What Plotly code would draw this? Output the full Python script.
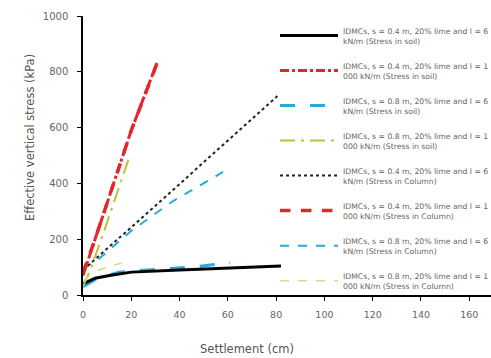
import plotly.graph_objects as go

# ---- data ----
labels = [
    "IDMCs, s = 0.4 m, 20% lime and l = 6<br>kN/m (Stress in soil)",
    "IDMCs, s = 0.4 m, 20% lime and l = 1<br>000 kN/m (Stress in soil)",
    "IDMCs, s = 0.8 m, 20% lime and l = 6<br>kN/m (Stress in soil)",
    "IDMCs, s = 0.8 m, 20% lime and l = 1<br>000 kN/m (Stress in soil)",
    "IDMCs, s = 0.4 m, 20% lime and l = 6<br>kN/m (Stress in Column)",
    "IDMCs, s = 0.4 m, 20% lime and l = 1<br>000 kN/m (Stress in Column)",
    "IDMCs, s = 0.8 m, 20% lime and l = 6<br>kN/m (Stress in Column)",
    "IDMCs, s = 0.8 m, 20% lime and l = 1<br>000 kN/m (Stress in Column)",
]

soil_04_6_x = [0, 5, 11, 20, 40, 60, 82]
soil_04_6_y = [40, 60, 70, 82, 90, 97, 104]

soil_04_1000_x = [0, 5, 10, 20, 31]
soil_04_1000_y = [70, 200, 330, 590, 840]

soil_08_6_x = [0, 5, 10, 15, 30, 45, 61]
soil_08_6_y = [30, 55, 70, 82, 92, 100, 115]

soil_08_1000_x = [0, 3, 8, 14, 19]
soil_08_1000_y = [30, 90, 210, 360, 490]

col_04_6_x = [0, 4, 30, 55, 80.5]
col_04_6_y = [90, 120, 320, 515, 713]

col_04_1000_x = [0, 5, 10, 20, 32]
col_04_1000_y = [80, 200, 330, 590, 860]

col_08_6_x = [0, 6, 20, 37, 58]
col_08_6_y = [95, 125, 230, 335, 441]

col_08_1000_x = [0, 5, 10, 16]
col_08_1000_y = [50, 85, 100, 115]

xs = [soil_04_6_x, soil_04_1000_x, soil_08_6_x, soil_08_1000_x,
      col_04_6_x, col_04_1000_x, col_08_6_x, col_08_1000_x]
ys = [soil_04_6_y, soil_04_1000_y, soil_08_6_y, soil_08_1000_y,
      col_04_6_y, col_04_1000_y, col_08_6_y, col_08_1000_y]

x_ticks = [0, 20, 40, 60, 80, 100, 120, 140, 160]
y_ticks = [0, 200, 400, 600, 800, 1000]

# ---- styles ----
styles = [
    dict(color="#000000", width=3, dash="solid"),
    dict(color="#e3262b", width=3, dash="dashdot"),
    dict(color="#27a9e1", width=3, dash="longdash"),
    dict(color="#b9c23a", width=2, dash="longdashdot"),
    dict(color="#222222", width=2, dash="dot"),
    dict(color="#e3262b", width=3.5, dash="dash"),
    dict(color="#27a9e1", width=2, dash="dash"),
    dict(color="#cfe08a", width=1.5, dash="dash"),
]

FONT = "DejaVu Sans"

fig = go.Figure()
order = [2, 0, 6, 3, 4, 7, 1, 5]  # drawing order
for i in order:
    fig.add_trace(go.Scatter(x=xs[i], y=ys[i], mode="lines", name=labels[i],
                             line=styles[i], legendrank=i + 1,
                             legendgroup=str(i)))

fig.update_layout(
    width=491, height=358,
    margin=dict(l=83, r=0, t=16, b=63, autoexpand=False),
    paper_bgcolor="white", plot_bgcolor="white",
    font=dict(family=FONT, color="#555555", size=9),
    showlegend=True,
    legend=dict(xref="container", yref="container", x=275 / 491, y=1 - 19 / 358,
                xanchor="left", yanchor="top", maxheight=1,
                bgcolor="rgba(0,0,0,0)", font=dict(family=FONT, size=7.7, color="#666666"),
                itemwidth=58, tracegroupgap=12, traceorder="grouped"),
    xaxis=dict(range=[0, 169], tickvals=x_ticks, showgrid=False, zeroline=False,
               showline=True, linecolor="#000000", linewidth=1.5,
               ticks="outside", ticklen=4, tickcolor="#000000", ticklabelstandoff=6,
               tickfont=dict(family=FONT, size=9.5, color="#666666")),
    yaxis=dict(range=[0, 1000], tickvals=y_ticks, showgrid=False, zeroline=False,
               showline=True, linecolor="#000000", linewidth=1.5,
               ticks="outside", ticklen=4, tickcolor="#000000", ticklabelstandoff=7,
               tickfont=dict(family=FONT, size=10, color="#666666")),
)

fig.add_annotation(text="Settlement (cm)", xref="paper", yref="paper",
                   x=(247 - 83) / 408, y=-54 / 279, showarrow=False,
                   font=dict(family=FONT, size=11.5, color="#555555"), yanchor="middle")
fig.add_annotation(text="Effective vertical stress (kPa)", xref="paper", yref="paper",
                   x=(30 - 83) / 408, y=(295 - 137) / 279, showarrow=False, textangle=-90,
                   font=dict(family=FONT, size=11.5, color="#555555"),
                   xanchor="center", yanchor="middle")

fig.write_html("out.html")
